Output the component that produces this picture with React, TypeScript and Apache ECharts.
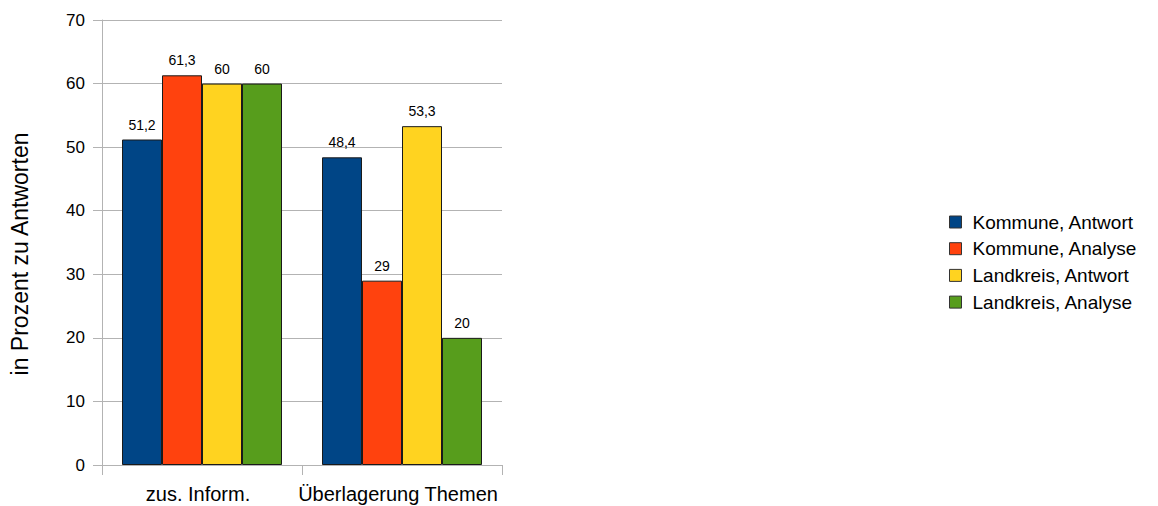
import React, { useEffect, useRef } from "react";
import * as echarts from "echarts";

const categories = ["zus. Inform.", "Überlagerung Themen"];
const seriesNames = ["Kommune, Antwort", "Kommune, Analyse", "Landkreis, Antwort", "Landkreis, Analyse"];
const kommuneAntwort = [51.2, 48.4];
const kommuneAnalyse = [61.3, 29];
const landkreisAntwort = [60, 53.3];
const landkreisAnalyse = [60, 20];
const colors = ["#004586", "#ff420e", "#ffd320", "#579d1c"];
const yTicks = { min: 0, max: 70, interval: 10 };
const yTitle = "in Prozent zu Antworten";

export default function App() {
  const ref = useRef<HTMLDivElement>(null);
  useEffect(() => {
    if (!ref.current) return;
    const chart = echarts.init(ref.current, undefined, { renderer: "svg" });
    const font = "'Liberation Sans', Arial, sans-serif";
    const data = [kommuneAntwort, kommuneAnalyse, landkreisAntwort, landkreisAnalyse];
    chart.setOption({
      animation: false,
      textStyle: { fontFamily: font },
      grid: { left: 102, right: 656, top: 20, bottom: 41, containLabel: false },
      legend: {
        orient: "vertical",
        left: 944,
        top: 207,
        itemWidth: 12,
        itemHeight: 12,
        itemGap: 6.7,
        icon: "rect",
        itemStyle: { borderColor: "#333", borderWidth: 1 },
        textStyle: { fontSize: 19, color: "#000", fontFamily: font, padding: [0, 0, 0, 6], lineHeight: 20 },
        data: seriesNames,
      },
      xAxis: {
        type: "category",
        data: categories,
        axisLine: { lineStyle: { color: "#b3b3b3", width: 1 } },
        axisTick: { show: true, length: 10, lineStyle: { color: "#b3b3b3" } },
        axisLabel: { fontSize: 20, color: "#000", margin: 19, fontFamily: font, interval: 0, padding: [0, 8, 0, 0] },
        splitLine: { show: false },
      },
      yAxis: {
        type: "value",
        min: yTicks.min,
        max: yTicks.max,
        interval: yTicks.interval,
        axisLine: { show: true, lineStyle: { color: "#b3b3b3", width: 1 } },
        axisTick: { show: true, length: 9, lineStyle: { color: "#b3b3b3" } },
        axisLabel: { fontSize: 17, color: "#000", margin: 17, fontFamily: font },
        splitLine: { show: true, lineStyle: { color: "#b3b3b3", width: 1 } },
      },
      graphic: [
        {
          type: "text",
          x: 20,
          y: 254,
          rotation: Math.PI / 2,
          style: {
            text: yTitle,
            fontSize: 23,
            fontFamily: font,
            fill: "#000",
            align: "center",
            verticalAlign: "middle",
          },
        },
      ],
      series: seriesNames.map((name, i) => ({
        name,
        type: "bar",
        data: data[i],
        barGap: "0%",
        barCategoryGap: "20%",
        itemStyle: { color: colors[i], borderColor: "#1a1a1a", borderWidth: 1 },
        label: {
          show: true,
          position: "top",
          distance: 8,
          fontSize: 14,
          color: "#000",
          fontFamily: font,
          formatter: (p: any) => String(p.value).replace(".", ","),
        },
      })),
    });
    return () => chart.dispose();
  }, []);
  return <div ref={ref} style={{ position: "absolute", left: 0, top: 0, width: 1158, height: 506 }} />;
}
